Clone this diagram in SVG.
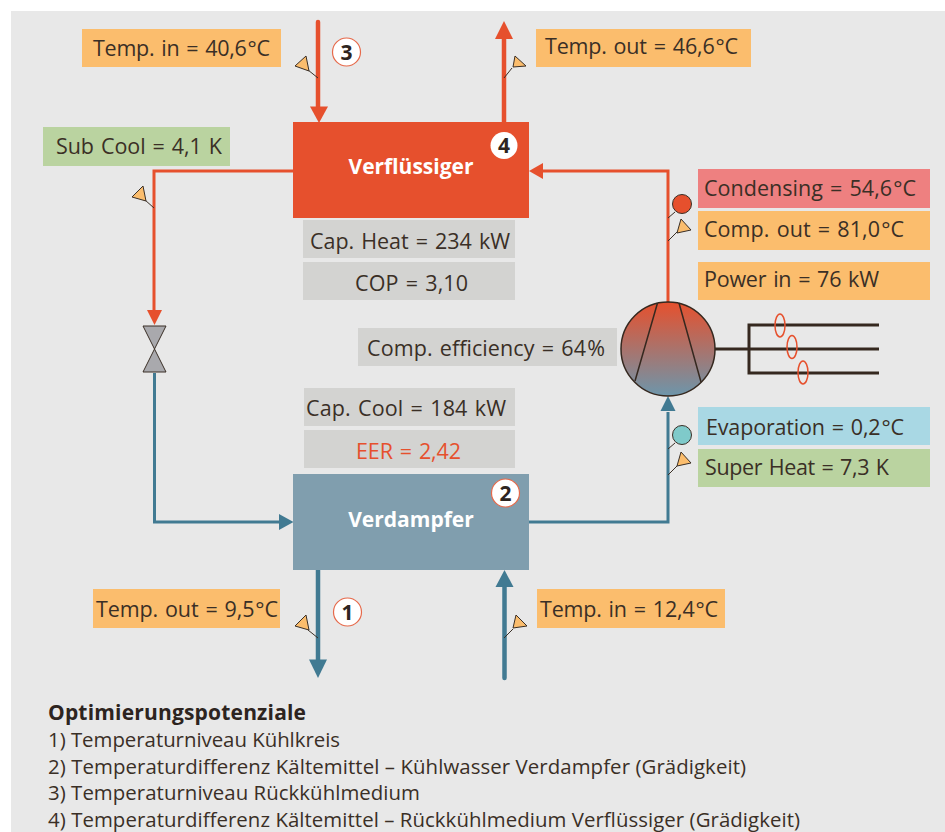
<svg xmlns="http://www.w3.org/2000/svg" width="945" height="832" viewBox="0 0 945 832">
<style>
text{font-family:"Open Sans","Noto Sans","Liberation Sans",sans-serif;fill:#3a2f26}
.l{font-size:21.5px;word-spacing:1.5px}
.h{word-spacing:-4.5px}
.f{font-size:20.4px}
.t{font-size:21px;font-weight:700;fill:#fff;text-anchor:middle}
.n{font-size:21px;font-weight:700;fill:#2d2420;text-anchor:middle}
.o{fill:#fbbd6d}.g{fill:#d3d3d1}.v{fill:#bad3a0}
.r{stroke:#e6502d;fill:none}.b{stroke:#417a92;fill:none}
.ra{fill:#e6502d}.ba{fill:#417a92}
.p{fill:#fbbd6d;stroke:#3a2f26;stroke-width:1}
.s{fill:none;stroke:#3a2f26;stroke-width:1}
.c{fill:#fff;stroke:#e6694a;stroke-width:1.2}
.k{fill:none;stroke:#35281f;stroke-width:3}
.e{fill:none;stroke:#e6502d;stroke-width:1.5}
</style>
<defs>
<linearGradient id="cg" x1="0" y1="0" x2="0" y2="1"><stop offset="0" stop-color="#e6502d"/><stop offset="1" stop-color="#6d96ab"/></linearGradient>
</defs>
<rect x="11" y="11" width="934" height="821" fill="#e8e8e8"/>
<g id="connectors">
<path class="r" stroke-width="4.5" stroke-linecap="round" d="M318 22V108"/>
<polygon class="ra" points="310,106.500 328,106.500 319,123"/>
<path class="r" stroke-width="4.500" d="M504 122V38"/>
<polygon class="ra" points="495,39 513,39 504,21"/>
<path class="r" stroke-width="3" d="M293 171H154V312"/>
<polygon class="ra" points="147,310 162,310 154.500,325"/>
<path class="r" stroke-width="3" d="M668 303V171H543"/>
<polygon class="ra" points="529,171 543,163 543,179"/>
<path class="b" stroke-width="3" d="M154.500 373V522H280"/>
<polygon class="ba" points="279,514 279,530 293.500,522"/>
<path class="b" stroke-width="3" d="M529 522H668V412"/>
<polygon class="ba" points="660.500,411 675.500,411 668,396"/>
<path class="b" stroke-width="4.500" d="M318 570V660"/>
<polygon class="ba" points="309,659.500 327,659.500 318,678"/>
<path class="b" stroke-width="4.500" stroke-linecap="round" d="M504.500 586V678"/>
<polygon class="ba" points="495.500,587 513.500,587 504.500,570"/>
</g>
<g id="verfluessiger"><rect x="293" y="122" width="236" height="96" fill="#e6502d"/><text class="t" x="411" y="174">Verflüssiger</text></g>
<g id="verdampfer"><rect x="293" y="474" width="236" height="96" fill="#809eae"/><text class="t" x="411" y="527">Verdampfer</text></g>
<g id="badge-1"><circle class="c" cx="347.500" cy="612" r="14"/><text class="n" x="347.500" y="620">1</text></g>
<g id="badge-2"><circle class="c" cx="505.500" cy="493" r="14"/><text class="n" x="505.500" y="501">2</text></g>
<g id="badge-3"><circle class="c" cx="346.500" cy="52" r="14"/><text class="n" x="346.500" y="60">3</text></g>
<g id="badge-4"><circle cx="504" cy="145.500" r="13.500" fill="#fff"/><text class="n" x="504" y="153">4</text></g>
<g id="temp-in-cond"><rect class="o" x="82" y="29" width="199" height="38"/><text class="l" x="93" y="56" textLength="177">Temp. in = 40,6<tspan class="h"> °C</tspan></text></g>
<g id="temp-out-cond"><rect class="o" x="536" y="29" width="215" height="38"/><text class="l" x="545" y="54" textLength="193">Temp. out = 46,6<tspan class="h"> °C</tspan></text></g>
<g id="sub-cool"><rect class="v" x="43" y="127" width="187" height="39"/><text class="l" x="56" y="154" textLength="166">Sub Cool = 4,1 K</text></g>
<g id="cap-heat"><rect class="g" x="303" y="220" width="212" height="38"/><text class="l" x="310" y="249" textLength="200">Cap. Heat = 234 kW</text></g>
<g id="cop"><rect class="g" x="303" y="262" width="212" height="38"/><text class="l" x="355" y="291" textLength="113">COP = 3,10</text></g>
<g id="comp-eff"><rect class="g" x="358" y="328" width="259" height="38"/><text class="l" x="367" y="356" textLength="238">Comp. efficiency = 64<tspan class="h"> %</tspan></text></g>
<g id="cap-cool"><rect class="g" x="304" y="388" width="211" height="38"/><text class="l" x="306" y="416" textLength="200">Cap. Cool = 184 kW</text></g>
<g id="eer"><rect class="g" x="304" y="430" width="211" height="38"/><text class="l" x="356" y="459" textLength="105" style="fill:#e6502d">EER = 2,42</text></g>
<g id="condensing"><rect x="698" y="169" width="232" height="39" fill="#ee8080"/><text class="l" x="704" y="196" textLength="212">Condensing = 54,6<tspan class="h"> °C</tspan></text></g>
<g id="comp-out"><rect class="o" x="698" y="211" width="232" height="39"/><text class="l" x="704" y="237" textLength="200">Comp. out = 81,0<tspan class="h"> °C</tspan></text></g>
<g id="power-in"><rect class="o" x="698" y="262" width="232" height="38"/><text class="l" x="704" y="287" textLength="175">Power in = 76 kW</text></g>
<g id="evaporation"><rect x="698" y="407" width="232" height="38" fill="#a9d8e4"/><text class="l" x="706" y="435" textLength="198">Evaporation = 0,2<tspan class="h"> °C</tspan></text></g>
<g id="super-heat"><rect class="v" x="698" y="449" width="232" height="38"/><text class="l" x="705" y="475" textLength="184">Super Heat = 7,3 K</text></g>
<g id="temp-out-evap"><rect class="o" x="93" y="589" width="187" height="39"/><text class="l" x="96" y="617" textLength="182">Temp. out = 9,5<tspan class="h"> °C</tspan></text></g>
<g id="temp-in-evap"><rect class="o" x="537" y="589" width="188" height="39"/><text class="l" x="540" y="617" textLength="178">Temp. in = 12,4<tspan class="h"> °C</tspan></text></g>
<g id="sensor-temp-in"><path class="s" d="M318 78L308 70"/><polygon class="p" points="295,66 306,56 309,71"/></g>
<g id="sensor-temp-out"><path class="s" d="M504 78L512 68"/><polygon class="p" points="513,67 515,56 526,66"/></g>
<g id="sensor-subcool"><path class="s" d="M154 208L145 200"/><polygon class="p" points="132,197 143,186 146,201"/></g>
<g id="sensor-comp"><path class="s" d="M668 241L677 232"/><circle cx="682" cy="204" r="9.500" fill="#e6502d" stroke="#3a2f26"/><path class="s" d="M668 218L675 212"/><polygon class="p" points="677,233 681,219 691,230"/></g>
<g id="sensor-evap"><circle cx="682" cy="435" r="9.500" fill="#7fcaca" stroke="#3a2f26"/><path class="s" d="M668 449L675 443"/><path class="s" d="M668 475L677 466"/><polygon class="p" points="677,466 681,452 691,463"/></g>
<g id="sensor-out-evap"><path class="s" d="M318 638L308 630"/><polygon class="p" points="295,626 306,615 309,630"/></g>
<g id="sensor-in-evap"><path class="s" d="M504 638L513 629"/><polygon class="p" points="513,628 516,615 527,626"/></g>
<g id="valve"><polygon points="143,326 166,326 154.500,349" fill="#a9a9ad" stroke="#3a2f26"/><polygon points="143,372 166,372 154.500,349" fill="#a9a9ad" stroke="#3a2f26"/></g>
<g id="compressor"><circle cx="668" cy="349" r="47" fill="url(#cg)" stroke="#35281f" stroke-width="1.500"/><path d="M657.500 303L635 381M679 303L701 382" fill="none" stroke="#35281f" stroke-width="1.500"/></g>
<g id="motor"><path class="k" d="M715 349H879M749 325H879M749 373H879M749 323.500V374.500"/><ellipse class="e" cx="780" cy="325.500" rx="5" ry="11.500"/><ellipse class="e" cx="792" cy="347" rx="5" ry="11.500"/><ellipse class="e" cx="803" cy="372.500" rx="5" ry="11.500"/></g>
<g id="legend">
<text x="48" y="720" textLength="258" style="font-size:21px;font-weight:700;fill:#2d2420">Optimierungspotenziale</text>
<text class="f" x="48" y="747" textLength="292">1) Temperaturniveau Kühlkreis</text>
<text class="f" x="48" y="773.500" textLength="698">2) Temperaturdifferenz Kältemittel – Kühlwasser Verdampfer (Grädigkeit)</text>
<text class="f" x="48" y="800" textLength="372">3) Temperaturniveau Rückkühlmedium</text>
<text class="f" x="48" y="827" textLength="752">4) Temperaturdifferenz Kältemittel – Rückkühlmedium Verflüssiger (Grädigkeit)</text>
</g>
</svg>
